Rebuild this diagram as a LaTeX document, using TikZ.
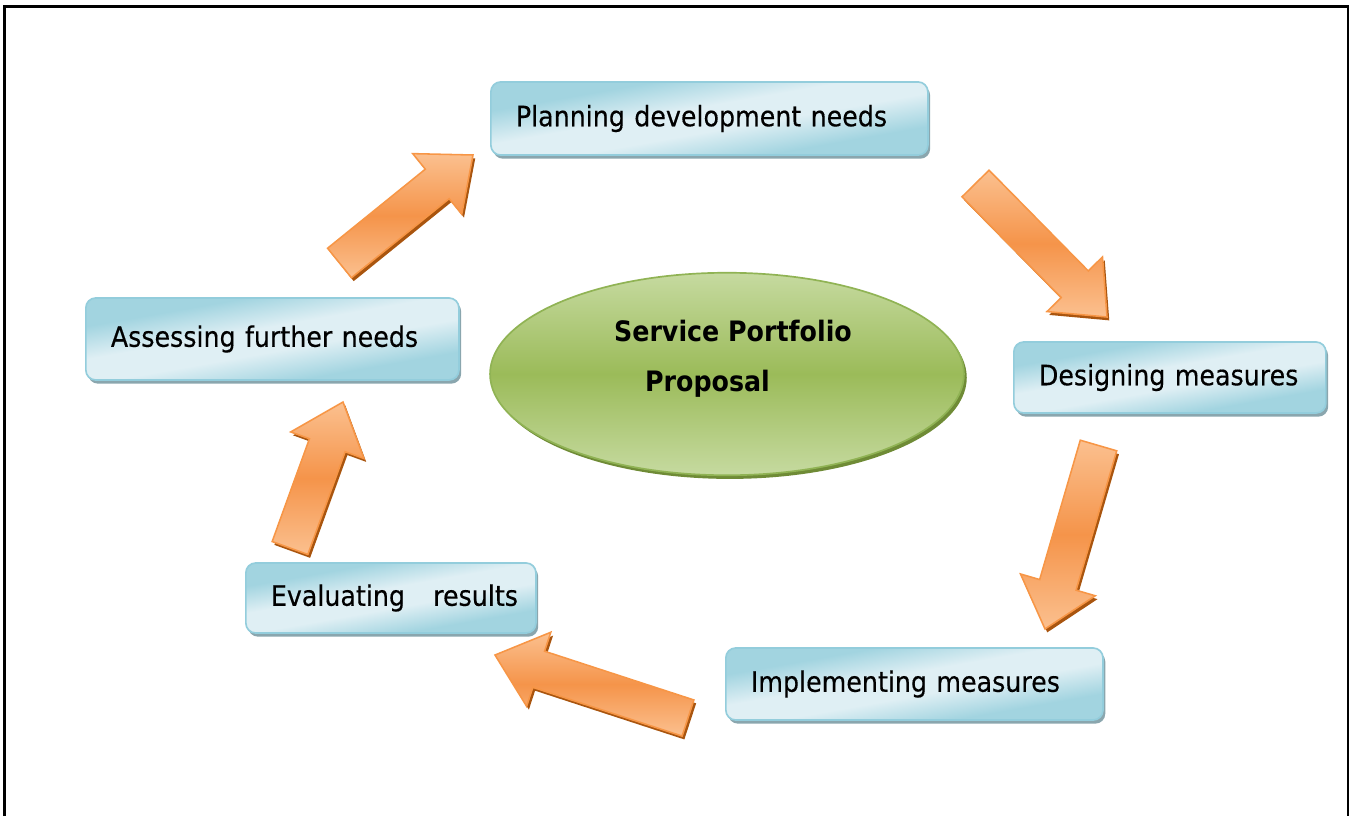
\documentclass[tikz,border=0pt]{standalone}
\usepackage{fontspec}
\setmainfont{DejaVu Sans}[FakeStretch=0.9]
\newfontfamily\boxfont{DejaVu Sans}[FakeStretch=0.9, FakeBold=0.3]
\usetikzlibrary{calc,shapes.geometric,shadows}
\hyphenpenalty=10000

\definecolor{boxlight}{HTML}{DFEFF4}
\definecolor{boxdark}{HTML}{A2D4E0}
\definecolor{boxedge}{HTML}{93CDDC}
\definecolor{boxshade}{HTML}{8AA6AE}
\definecolor{arrlight}{HTML}{FBC08F}
\definecolor{arrmid}{HTML}{F5944A}
\definecolor{arredge}{HTML}{F79646}
\definecolor{arrshade}{HTML}{A9550F}
\definecolor{hublight}{HTML}{C6DAA0}
\definecolor{hubmid}{HTML}{9BBB59}
\definecolor{hubedge}{HTML}{90B354}
\definecolor{hubshade}{HTML}{6F8B36}

% light band across the boxes, darker at two corners
\pgfdeclarehorizontalshading{boxsheen}{100bp}{color(0bp)=(boxdark); color(32bp)=(boxdark);
  color(45bp)=(boxlight); color(55bp)=(boxlight); color(68bp)=(boxdark); color(100bp)=(boxdark)}

% block arrow from tail #1 to tip #2
\newcommand{\cycshaft}{13.5pt}
\newcommand{\cychead}{27.7pt}
\newcommand{\cyclen}{32.7pt}
\newcommand{\cyclearrow}[2]{%
  \coordinate (#1 base) at ($(#2)!\cyclen!(#1)$);
  \path[cycarrow] ($(#1)!\cycshaft!90:(#2)$) -- ($(#1 base)!\cycshaft!90:(#2)$)
    -- ($(#1 base)!\cychead!90:(#2)$) -- (#2)
    -- ($(#1 base)!\cychead!-90:(#2)$) -- ($(#1 base)!\cycshaft!-90:(#2)$)
    -- ($(#1)!\cycshaft!-90:(#2)$) -- cycle;}

\begin{document}
\begin{tikzpicture}[
  x=0.025cm, y=-0.025cm,
  box/.style={rectangle, rounded corners=7pt, draw=boxedge, line width=1.2pt,
    shading=boxsheen, shading angle=100,
    drop shadow={shadow xshift=1.6pt, shadow yshift=-2.6pt, fill=boxshade, opacity=1},
    anchor=west, inner xsep=17.8pt, minimum height=52pt, align=left, text width=#1,
    font=\boxfont\fontsize{20pt}{24pt}\selectfont},
  hub/.style={ellipse, draw=hubedge, line width=1.2pt,
    top color=hublight, bottom color=hublight, middle color=hubmid,
    drop shadow={shadow xshift=2pt, shadow yshift=-2.6pt, fill=hubshade, opacity=1},
    minimum width=337pt, minimum height=144pt, inner sep=0pt, align=center,
    font=\fontsize{20pt}{36pt}\selectfont\bfseries},
  cycarrow/.style={draw=arredge, line width=1.1pt, line join=miter,
    top color=arrlight, bottom color=arrlight, middle color=arrmid,
    drop shadow={shadow xshift=1.6pt, shadow yshift=-2.4pt, fill=arrshade, opacity=1}}
]
\useasboundingbox (0,0) rectangle (1358,816);

% page frame, open at the bottom
\draw[line width=1.6pt] (4.5,816) |- (1348,6.5) -- (1348,816);

\node[hub] (hub) at (727,374)
  {\hspace*{8.5pt}Service Portfolio\\Proposal\hspace*{27.7pt}\rule[-26pt]{0pt}{0pt}};

\node[box=275.2pt] (plan) at (490,118.5) {Planning development needs};
\node[box=186.3pt, minimum height=50.5pt] (design) at (1013,377.5) {Designing measures};
\node[box=232.6pt, minimum height=51.2pt] (impl) at (725,684) {Implementing measures};
\node[box=170.7pt, minimum height=49.8pt] (eval) at (245,598) {Evaluating~~~results};
\node[box=229.7pt, minimum height=58.3pt] (assess) at (85,339) {Assessing further needs};

% arrow ends
\coordinate (a1) at (339.5,263);  \coordinate (a1 tip) at (473,155);
\coordinate (a2) at (975.5,183.5); \coordinate (a2 tip) at (1107,317);
\coordinate (a3) at (1098.5,445.5); \coordinate (a3 tip) at (1045,629);
\coordinate (a4) at (688,718);    \coordinate (a4 tip) at (495,655);
\coordinate (a5) at (290,548);    \coordinate (a5 tip) at (343,402);

\cyclearrow{a1}{a1 tip}
\cyclearrow{a2}{a2 tip}
\cyclearrow{a3}{a3 tip}
\cyclearrow{a4}{a4 tip}
\cyclearrow{a5}{a5 tip}
\end{tikzpicture}
\end{document}
